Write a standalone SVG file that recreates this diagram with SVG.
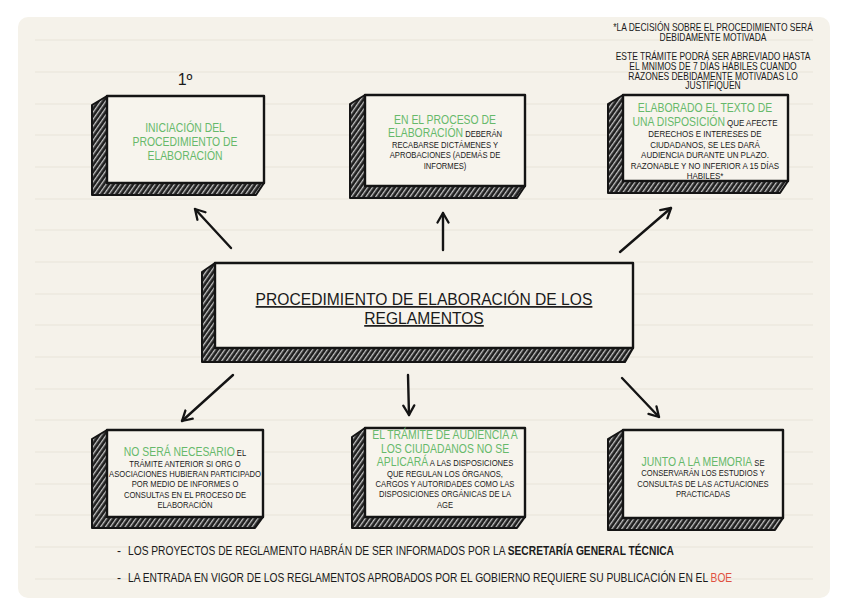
<svg xmlns="http://www.w3.org/2000/svg" width="848" height="616" viewBox="0 0 848 616">
<style>
  text { font-family: "Liberation Sans", Arial, sans-serif; fill: #1a1a1a; }
  .g { fill: #66b96a; font-size: 12px; }
  .b { fill: #1a1a1a; font-size: 8.8px; }
  .b3 { fill: #1a1a1a; font-size: 9.2px; }
  .n { font-size: 10.2px; }
  .c { text-anchor: middle; }
  .face { fill: #f7f4ed; stroke: #141414; stroke-width: 2.4; stroke-linejoin: round; }
  .ext { fill: url(#hatch); stroke: #141414; stroke-width: 2; stroke-linejoin: round; }
  .rule { stroke: #e8e4d9; stroke-width: 1; }
  .arr { fill: none; stroke: #141414; stroke-width: 2.4; stroke-linecap: round; marker-end: url(#ah); }
</style>
<defs>
  <pattern id="hatch" width="4" height="4" patternUnits="userSpaceOnUse" patternTransform="rotate(35)">
    <rect width="4" height="4" fill="#1f1f1f"/>
    <rect x="0" y="0" width="1.3" height="4" fill="#c4c4c4"/>
  </pattern>
  <marker id="ah" viewBox="0 0 14 14" refX="11" refY="7" markerWidth="14" markerHeight="14" markerUnits="userSpaceOnUse" orient="auto">
    <path d="M1.5,1.5 L11,7 L1.5,12.5" fill="none" stroke="#141414" stroke-width="2.3" stroke-linecap="round" stroke-linejoin="round"/>
  </marker>
</defs>

<rect x="0" y="0" width="848" height="616" fill="#ffffff"/>
<rect x="18" y="17" width="812" height="581" rx="10" fill="#f5f2ea"/>
<g id="rules">
  <line class="rule" x1="35" y1="40" x2="813" y2="40"/>
  <line class="rule" x1="35" y1="72" x2="813" y2="72"/>
  <line class="rule" x1="35" y1="104" x2="813" y2="104"/>
  <line class="rule" x1="35" y1="135" x2="813" y2="135"/>
  <line class="rule" x1="35" y1="167" x2="813" y2="167"/>
  <line class="rule" x1="35" y1="199" x2="813" y2="199"/>
  <line class="rule" x1="35" y1="230" x2="813" y2="230"/>
  <line class="rule" x1="35" y1="262" x2="813" y2="262"/>
  <line class="rule" x1="35" y1="294" x2="813" y2="294"/>
  <line class="rule" x1="35" y1="325" x2="813" y2="325"/>
  <line class="rule" x1="35" y1="357" x2="813" y2="357"/>
  <line class="rule" x1="35" y1="389" x2="813" y2="389"/>
  <line class="rule" x1="35" y1="420" x2="813" y2="420"/>
  <line class="rule" x1="35" y1="452" x2="813" y2="452"/>
  <line class="rule" x1="35" y1="484" x2="813" y2="484"/>
  <line class="rule" x1="35" y1="515" x2="813" y2="515"/>
  <line class="rule" x1="35" y1="547" x2="813" y2="547"/>
  <line class="rule" x1="35" y1="579" x2="813" y2="579"/>
</g>

<g id="connectors">
  <path class="arr" d="M231,248 L195,209"/>
  <path class="arr" d="M443,250 L443,213"/>
  <path class="arr" d="M620,252 L671,208"/>
  <path class="arr" d="M233,375 L182,421"/>
  <path class="arr" d="M408,375 L409,415"/>
  <path class="arr" d="M622,378 L659,417"/>
</g>

<text x="185" y="85" class="c" style="font-size:16px">1º</text>

<g id="notes-top">
  <g transform="matrix(0.83 0 0 1 713 0)">
    <text x="0" y="31.5" class="c n">*LA DECISIÓN SOBRE EL PROCEDIMIENTO SERÁ</text>
    <text x="0" y="41" class="c n">DEBIDAMENTE MOTIVADA</text>
    <text x="0" y="60.5" class="c n">ESTE TRÁMITE PODRÁ SER ABREVIADO HASTA</text>
    <text x="0" y="70.5" class="c n">EL MNIMOS DE 7 DÍAS HÁBILES CUANDO</text>
    <text x="0" y="80" class="c n">RAZONES DEBIDAMENTE MOTIVADAS LO</text>
    <text x="0" y="89.5" class="c n">JUSTIFIQUEN</text>
  </g>
</g>

<g id="node-iniciacion">
  <path class="ext" d="M107,96 L92,105 L92,195 L256,195 L264,183 L107,183 Z"/>
  <rect class="face" x="107" y="96" width="157" height="87"/>
  <g transform="matrix(0.867 0 0 1 185 0)">
    <text x="0" y="132" class="c g">INICIACIÓN DEL</text>
    <text x="0" y="146" class="c g">PROCEDIMIENTO DE</text>
    <text x="0" y="160" class="c g">ELABORACIÓN</text>
  </g>
</g>

<g id="node-proceso">
  <path class="ext" d="M365,95 L350,104 L350,198 L517,198 L525,186 L365,186 Z"/>
  <rect class="face" x="365" y="95" width="160" height="91"/>
  <g transform="matrix(0.867 0 0 1 445 0)">
    <text x="0" y="124" class="c g">EN EL PROCESO DE</text>
    <text x="0" y="137.5" class="c"><tspan class="g">ELABORACIÓN</tspan><tspan class="b"> DEBERÁN</tspan></text>
    <text x="0" y="148" class="c b">RECABARSE DICTÁMENES Y</text>
    <text x="0" y="158.3" class="c b">APROBACIONES (ADEMÁS DE</text>
    <text x="0" y="168.6" class="c b">INFORMES)</text>
  </g>
</g>

<g id="node-texto">
  <path class="ext" d="M623,95 L608,104 L608,193 L780,193 L788,181 L623,181 Z"/>
  <rect class="face" x="623" y="95" width="165" height="86"/>
  <g transform="matrix(0.867 0 0 1 705 0)">
    <text x="0" y="112.5" class="c g">ELABORADO EL TEXTO DE</text>
    <text x="0" y="126" class="c"><tspan class="g">UNA DISPOSICIÓN</tspan><tspan class="b3"> QUE AFECTE</tspan></text>
    <text x="0" y="137" class="c b3">DERECHOS E INTERESES DE</text>
    <text x="0" y="147.6" class="c b3">CIUDADANOS, SE LES DARÁ</text>
    <text x="0" y="158.2" class="c b3">AUDIENCIA DURANTE UN PLAZO.</text>
    <text x="0" y="168.8" class="c b3">RAZONABLE Y NO INFERIOR A 15 DÍAS</text>
    <text x="0" y="179" class="c b3">HABILES*</text>
  </g>
</g>

<g id="node-central">
  <path class="ext" d="M215,263 L202,272 L202,362 L625,362 L633,348 L215,348 Z"/>
  <rect class="face" x="215" y="263" width="418" height="85"/>
  <g transform="matrix(0.92 0 0 1 424 0)">
    <text x="0" y="305" class="c" style="font-size:17px;text-decoration:underline">PROCEDIMIENTO DE ELABORACIÓN DE LOS</text>
    <text x="0" y="324" class="c" style="font-size:17px;text-decoration:underline">REGLAMENTOS</text>
  </g>
</g>

<g id="node-no-necesario">
  <path class="ext" d="M107,430 L92,439 L92,528 L255,528 L263,517 L107,517 Z"/>
  <rect class="face" x="107" y="430" width="156" height="87"/>
  <g transform="matrix(0.867 0 0 1 185 0)">
    <text x="0" y="456" class="c"><tspan class="g">NO SERÁ NECESARIO</tspan><tspan class="b"> EL</tspan></text>
    <text x="0" y="467" class="c b">TRÁMITE ANTERIOR SI ORG O</text>
    <text x="0" y="477.2" class="c b">ASOCIACIONES HUBIERAN PARTICIPADO</text>
    <text x="0" y="487.4" class="c b">POR MEDIO DE INFORMES O</text>
    <text x="0" y="497.6" class="c b">CONSULTAS EN EL PROCESO DE</text>
    <text x="0" y="507.8" class="c b">ELABORACIÓN</text>
  </g>
</g>

<g id="node-audiencia">
  <path class="ext" d="M365,428 L352,437 L352,528 L517,528 L525,517 L365,517 Z"/>
  <rect class="face" x="365" y="428" width="160" height="89"/>
  <g transform="matrix(0.867 0 0 1 445 0)">
    <text x="0" y="439.5" class="c g">EL TRÁMITE DE AUDIENCIA A</text>
    <text x="0" y="453" class="c g">LOS CIUDADANOS NO SE</text>
    <text x="0" y="466.5" class="c"><tspan class="g">APLICARÁ</tspan><tspan class="b"> A LAS DISPOSICIONES</tspan></text>
    <text x="0" y="477" class="c b">QUE REGULAN LOS ÓRGANOS,</text>
    <text x="0" y="487.2" class="c b">CARGOS Y AUTORIDADES COMO LAS</text>
    <text x="0" y="497.4" class="c b">DISPOSICIONES ORGÁNICAS DE LA</text>
    <text x="0" y="507.6" class="c b">AGE</text>
  </g>
</g>

<g id="node-memoria">
  <path class="ext" d="M623,430 L608,439 L608,530 L775,530 L783,518 L623,518 Z"/>
  <rect class="face" x="623" y="430" width="160" height="88"/>
  <g transform="matrix(0.867 0 0 1 703 0)">
    <text x="0" y="466" class="c"><tspan class="g">JUNTO A LA MEMORIA</tspan><tspan class="b"> SE</tspan></text>
    <text x="0" y="476.5" class="c b">CONSERVARÁN LOS ESTUDIOS Y</text>
    <text x="0" y="486.7" class="c b">CONSULTAS DE LAS ACTUACIONES</text>
    <text x="0" y="496.9" class="c b">PRACTICADAS</text>
  </g>
</g>

<g id="notes-bottom">
  <text x="117" y="555" style="font-size:12px">-</text>
  <text x="117" y="582" style="font-size:12px">-</text>
  <g transform="matrix(0.853 0 0 1 128 0)">
    <text x="0" y="555" style="font-size:12px">LOS PROYECTOS DE REGLAMENTO HABRÁN DE SER INFORMADOS POR LA <tspan style="font-weight:bold">SECRETARÍA GENERAL TÉCNICA</tspan></text>
    <text x="0" y="582" style="font-size:12px">LA ENTRADA EN VIGOR DE LOS REGLAMENTOS APROBADOS POR EL GOBIERNO REQUIERE SU PUBLICACIÓN EN EL <tspan style="fill:#e0513f">BOE</tspan></text>
  </g>
</g>
</svg>
